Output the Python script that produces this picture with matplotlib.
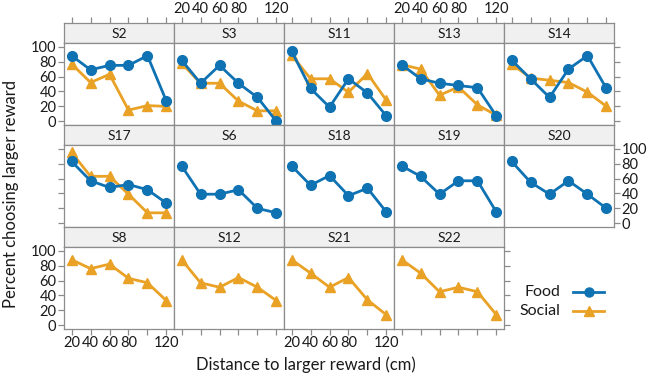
import matplotlib
matplotlib.use('Agg')
import matplotlib.pyplot as plt
from matplotlib.lines import Line2D

plt.rcParams['font.family'] = ['Lato', 'DejaVu Sans']

# ---- data ----
distance = [20, 40, 60, 80, 100, 120]
x_tick_labels = ['20', '40', '60', '80', '', '120']
y_ticks = [0, 20, 40, 60, 80, 100]
y_tick_labels = ['0', '20', '40', '60', '80', '100']

row1 = ['S2', 'S3', 'S11', 'S13', 'S14']
row2 = ['S17', 'S6', 'S18', 'S19', 'S20']
row3 = ['S8', 'S12', 'S21', 'S22']

food_S2 = [88, 69, 75, 75, 88, 27]
food_S3 = [82, 51, 75, 51, 32, 0]
food_S11 = [94, 44, 19, 57, 38, 7]
food_S13 = [76, 57, 51, 48, 45, 7]
food_S14 = [82, 57, 32, 70, 88, 44]
food_S17 = [83, 57, 48, 52, 45, 27]
food_S6 = [77, 39, 39, 45, 20, 14]
food_S18 = [77, 51, 64, 37, 47, 15]
food_S19 = [77, 63, 39, 57, 57, 15]
food_S20 = [83, 55, 39, 57, 39, 20]

social_S2 = [77, 52, 63, 15, 21, 20]
social_S3 = [78, 51, 51, 27, 14, 14]
social_S11 = [89, 57, 57, 39, 64, 28]
social_S13 = [76, 70, 35, 46, 22, 8]
social_S14 = [77, 58, 55, 52, 39, 20]
social_S17 = [95, 63, 63, 39, 14, 14]
social_S8 = [88, 76, 82, 63, 57, 33]
social_S12 = [88, 57, 51, 64, 51, 33]
social_S21 = [88, 70, 51, 64, 34, 14]
social_S22 = [88, 70, 45, 51, 45, 14]

legend_labels = ['Food', 'Social']

food = {'S2': food_S2, 'S3': food_S3, 'S11': food_S11, 'S13': food_S13,
        'S14': food_S14, 'S17': food_S17, 'S6': food_S6, 'S18': food_S18,
        'S19': food_S19, 'S20': food_S20}
social = {'S2': social_S2, 'S3': social_S3, 'S11': social_S11, 'S13': social_S13,
          'S14': social_S14, 'S17': social_S17, 'S8': social_S8, 'S12': social_S12,
          'S21': social_S21, 'S22': social_S22}

# ---- style ----
W, H = 650, 380
BLUE = '#0f72b3'
ORANGE = '#e9a126'
FRAME = '#8c8c8c'
STRIP_BG = '#f0f0f0'
TXT = '#1a1a1a'
FS = 10.5
STRIP_FS = 10

fig = plt.figure(figsize=(W / 100, H / 100), dpi=100)


def rect(x0, y0, w, h):
    return [x0 / W, 1 - (y0 + h) / H, w / W, h / H]


left0 = 64
pw = 110
strip_h = 20
ph = 82
row_tops = [23, 125, 227]
rows = [row1, row2, row3]

for r, names in enumerate(rows):
    for c, name in enumerate(names):
        x0 = left0 + c * pw
        st = row_tops[r]
        # strip
        sax = fig.add_axes(rect(x0, st, pw, strip_h))
        sax.set_facecolor(STRIP_BG)
        sax.set_xticks([])
        sax.set_yticks([])
        for s in sax.spines.values():
            s.set_color(FRAME)
            s.set_linewidth(0.9)
        sax.text(0.5, 0.45, name, ha='center', va='center', fontsize=STRIP_FS,
                 color=TXT, transform=sax.transAxes)
        # panel
        ax = fig.add_axes(rect(x0, st + strip_h, pw, ph))
        ax.set_xlim(12, 128)
        ax.set_ylim(-5, 105)
        for s in ax.spines.values():
            s.set_color(FRAME)
            s.set_linewidth(0.9)
        if name in food:
            ax.plot(distance, food[name], color=BLUE, lw=2.0, marker='o',
                    ms=7, zorder=3, clip_on=False)
        if name in social:
            ax.plot(distance, social[name], color=ORANGE, lw=2.0, marker='^',
                    ms=7.5, zorder=2, clip_on=False)
        ax.set_xticks([])
        ax.set_yticks([])

        # x axes
        if r == 0:
            sax.set_xlim(12, 128)
            sax.set_xticks(distance)
            sax.xaxis.set_ticks_position('top')
            sax.tick_params(axis='x', direction='out', length=4, width=0.9,
                            color=FRAME, labelsize=FS, labelcolor=TXT, pad=1)
            if c in (1, 3):
                sax.set_xticklabels(x_tick_labels)
            else:
                sax.set_xticklabels([''] * 6)
        if r == 2:
            ax.set_xticks(distance)
            ax.tick_params(axis='x', direction='out', length=4, width=0.9,
                           color=FRAME, labelsize=FS, labelcolor=TXT, pad=1)
            if c in (0, 2):
                ax.set_xticklabels(x_tick_labels)
            else:
                ax.set_xticklabels([''] * 6)
        # y axes
        if c == 0:
            ax.set_yticks(y_ticks)
            ax.tick_params(axis='y', direction='out', length=4, width=0.9,
                           color=FRAME, labelsize=FS, labelcolor=TXT, pad=1.5)
            if r in (0, 2):
                ax.set_yticklabels(y_tick_labels)
            else:
                ax.set_yticklabels([''] * 6)
        if c == len(names) - 1:
            ax.set_yticks(y_ticks)
            ax.yaxis.set_ticks_position('right')
            ax.tick_params(axis='y', direction='out', length=4, width=0.9,
                           color=FRAME, labelsize=FS, labelcolor=TXT, pad=1.5)
            if r == 1:
                ax.set_yticklabels(y_tick_labels)
            else:
                ax.set_yticklabels([''] * 6)

# axis titles
fig.text(11 / W, 1 - 194 / H, 'Percent choosing larger reward', rotation=90,
         ha='center', va='center', fontsize=12, color=TXT)
fig.text(306 / W, 1 - 365 / H, 'Distance to larger reward (cm)',
         ha='center', va='center', fontsize=12, color=TXT)

# legend
leg_y = [292, 311]
leg_colors = [BLUE, ORANGE]
leg_markers = ['o', '^']
for lab, yy, col, mk in zip(legend_labels, leg_y, leg_colors, leg_markers):
    fig.text(560 / W, 1 - yy / H, lab, ha='right', va='center', fontsize=11.5,
             color=TXT)
    fig.add_artist(Line2D([573 / W, 604 / W], [1 - yy / H, 1 - yy / H],
                          color=col, lw=2.0, transform=fig.transFigure))
    fig.add_artist(Line2D([588.5 / W], [1 - yy / H], color=col, marker=mk,
                          ms=6.5 if mk == 'o' else 7, lw=0,
                          transform=fig.transFigure))

fig.savefig('out.png', dpi=100)
